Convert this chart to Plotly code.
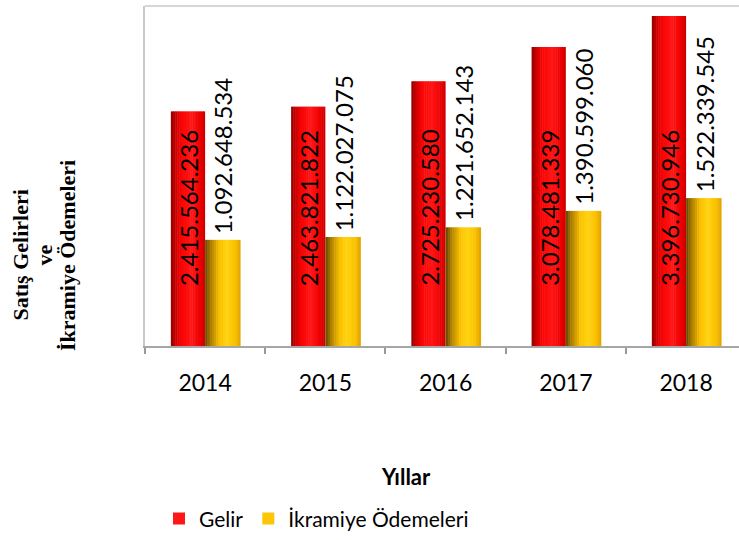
import plotly.graph_objects as go

# ---- data ----
years = ['2014', '2015', '2016', '2017', '2018']
gelir = [2415564236, 2463821822, 2725230580, 3078481339, 3396730946]
ikramiye = [1092648534, 1122027075, 1221652143, 1390599060, 1522339545]
series_names = ['Gelir', 'İkramiye Ödemeleri']
y_title_lines = ['Satış Gelirleri', 've', 'İkramiye Ödemeleri']
x_title = 'Yıllar'


def fmt(v):
    return f"{v:,}".replace(',', '.')


def interp(stops, t):
    for (t0, c0), (t1, c1) in zip(stops[:-1], stops[1:]):
        if t0 <= t <= t1:
            f = (t - t0) / (t1 - t0) if t1 > t0 else 0
            c = [round(a + (b - a) * f) for a, b in zip(c0, c1)]
            return f"rgb({c[0]},{c[1]},{c[2]})"
    c = stops[-1][1]
    return f"rgb({c[0]},{c[1]},{c[2]})"


red_stops = [(0, (140, 0, 0)), (0.12, (200, 0, 0)), (0.32, (250, 5, 5)),
             (0.6, (255, 22, 22)), (0.85, (238, 0, 0)), (1, (200, 0, 0))]
gold_stops = [(0, (95, 70, 0)), (0.15, (170, 125, 0)), (0.4, (250, 192, 0)),
              (0.62, (255, 212, 18)), (0.85, (250, 192, 0)), (1, (222, 160, 0))]

N = 16
fig = go.Figure()

series = [
    (series_names[0], gelir, red_stops, -0.285, 0.285, 9),
    (series_names[1], ikramiye, gold_stops, 0.0, 0.295, 7),
]

for name, vals, stops, off, bw, legend_k in series:
    sw = bw / N
    for k in range(N):
        t = (k + 0.5) / N
        fig.add_trace(go.Bar(
            x=years, y=vals,
            offset=off + k * sw,
            width=sw + (0.004 if k < N - 1 else 0),
            marker=dict(color=interp(stops, t), line=dict(width=0)),
            name=name,
            legendgroup=name,
            showlegend=(k == legend_k),
            hovertemplate=name + ' %{x}: %{y:,}<extra></extra>',
        ))

annotations = []
# red (Gelir) labels: inside bar, fixed distance above base
for i, v in enumerate(gelir):
    annotations.append(dict(
        x=i, y=0, xref='x', yref='y', text=fmt(v), textangle=-90,
        showarrow=False, xanchor='center', yanchor='bottom',
        xshift=-17, yshift=58,
        font=dict(family='Lato', size=24, color='black')))
# gold labels: above bars
for i, v in enumerate(ikramiye):
    annotations.append(dict(
        x=i, y=v, xref='x', yref='y', text=fmt(v), textangle=-90,
        showarrow=False, xanchor='center', yanchor='bottom',
        xshift=18, yshift=4,
        font=dict(family='Lato', size=24, color='black')))

# y title (three lines)
for line, px in zip(y_title_lines, [20.5, 44.5, 67.0]):
    annotations.append(dict(
        x=(px - 145) / 594, y=(350 - 258) / 344, xref='paper', yref='paper',
        text='<b>' + line + '</b>', textangle=-90, showarrow=False,
        xanchor='center', yanchor='middle',
        font=dict(family='Liberation Serif', size=22, color='black')))

# x title
annotations.append(dict(
    x=(406 - 145) / 594, y=(350 - 482) / 344, xref='paper', yref='paper',
    text='<b>' + x_title + '</b>', showarrow=False,
    xanchor='center', yanchor='middle',
    font=dict(family='Lato', size=22, color='black')))

fig.update_layout(
    width=739, height=540,
    margin=dict(l=145, r=0, t=6, b=190),
    plot_bgcolor='white', paper_bgcolor='white',
    barmode='overlay',
    annotations=annotations,
    showlegend=True,
    legend=dict(orientation='h', x=(159 - 145) / 594, xanchor='left',
                y=(350 - 525) / 344, yanchor='middle',
                font=dict(family='Lato', size=21, color='black'),
                bgcolor='rgba(0,0,0,0)', itemclick=False),
    shapes=[dict(type='line', xref='paper', yref='paper', x0=0, x1=1, y0=1, y1=1,
                 line=dict(color='#C8C8C8', width=1.5))],
    xaxis=dict(type='category', categoryorder='array', categoryarray=years,
               range=[-0.5, 4.44], tickson='boundaries', ticks='outside',
               ticklen=6, tickwidth=1.5, tickcolor='#999999',
               showline=True, linecolor='#A6A6A6', linewidth=2,
               showgrid=False, ticklabelstandoff=15,
               tickfont=dict(family='Lato', size=23, color='black')),
    yaxis=dict(range=[0, 3.5e9], showticklabels=False, showgrid=False,
               zeroline=False, showline=True, linecolor='#C8C8C8',
               linewidth=1.5, ticks=''),
)

fig.write_html('out.html', config={'displayModeBar': False},
               post_script="document.body.style.margin='0';document.body.style.overflow='hidden';")
